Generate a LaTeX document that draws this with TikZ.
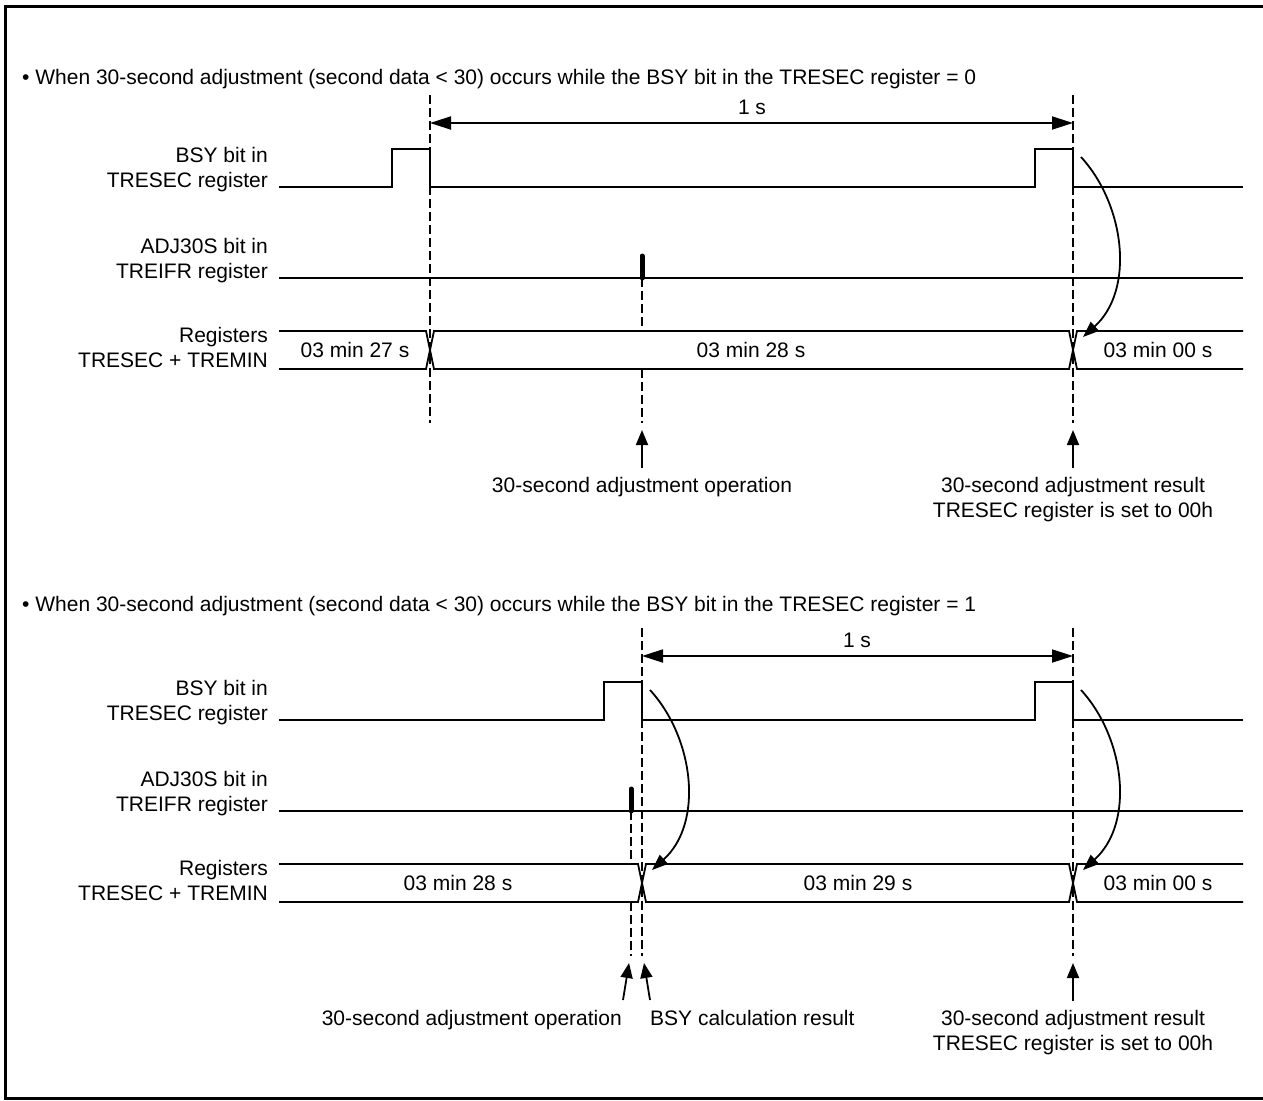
\documentclass[tikz,border=0pt]{standalone}
\usepackage{fontspec}
\setmainfont{Liberation Sans}
\usetikzlibrary{arrows.meta}
\tikzset{
  sig/.style={line width=1.8pt},
  guide/.style={line width=2.8pt,dash pattern=on 9pt off 4pt},
  pulse/.style={line width=5pt,line cap=round},
  span/.style={line width=1.8pt,{Triangle[length=21pt,width=13pt]}-{Triangle[length=21pt,width=13pt]}},
  ptr/.style={line width=1.8pt,-{Triangle[length=15pt,width=12pt]}},
  bendptr/.style={line width=1.8pt,-{Triangle[length=16pt,width=12pt]}},
}
\begin{document}
\begin{tikzpicture}[x=1pt,y=-1pt,every node/.style={font=\fontsize{21}{25}\selectfont,inner sep=0pt}]
\useasboundingbox (0,0) rectangle (1263,1100);
\draw[line width=3pt] (5,6.3) rectangle (1290,1098.5);
\node[anchor=base west] (titleA) at (22,84) {• When 30-second adjustment (second data < 30) occurs while the BSY bit in the TRESEC register = 0};
\node[anchor=base west] (titleB) at (22,611) {• When 30-second adjustment (second data < 30) occurs while the BSY bit in the TRESEC register = 1};
\node[anchor=east,align=right] (bsyA) at (268,169.5) {BSY bit in\\TRESEC register};
\node[anchor=east,align=right] (adjA) at (268,260.5) {ADJ30S bit in\\TREIFR register};
\node[anchor=east,align=right] (regA) at (268,347) {Registers\\TRESEC + TREMIN};
\draw[sig] (279,187)--(392,187)--(392,149)--(430,149)--(430,187)--(1035,187)--(1035,149)--(1073,149)--(1073,187)--(1243,187);
\draw[sig] (279,278)--(1243,278);
\draw[pulse] (642,256)--(642,278);
\draw[sig] (279,331)--(426,331)--(434,369)--(1069,369)--(1077,331)--(1243,331);
\draw[sig] (279,369)--(426,369)--(434,331)--(1069,331)--(1077,369)--(1243,369);
\node (valA1) at (355,350) {03 min 27 s};
\node (valA2) at (751,350) {03 min 28 s};
\node (valA3) at (1158,350) {03 min 00 s};
\coordinate (gA1t) at (430,95); \coordinate (gA1b) at (430,423);
\coordinate (gA2t) at (1073,95); \coordinate (gA2b) at (1073,423);
\draw[guide] (gA1t)--(gA1b);
\draw[guide] (gA2t)--(gA2b);
\draw[guide] (642,278)--(642,331);
\draw[guide] (642,369)--(642,423);
\coordinate (spA1) at (430,123); \coordinate (spA2) at (1073,123);
\draw[span] (spA1)--(spA2);
\node (oneA) at (752,107) {1 s};
\coordinate (tailA1) at (642,468); \coordinate (tipA1) at (642,430);
\coordinate (tailA2) at (1073,468); \coordinate (tipA2) at (1073,430);
\draw[ptr] (tailA1)--(tipA1);
\draw[ptr] (tailA2)--(tipA2);
\node[anchor=base] (opA) at (642,492.5) {30-second adjustment operation};
\node[align=center] (resA) at (1073,499.5) {30-second adjustment result\\TRESEC register is set to 00h};
\coordinate (bA1) at (1081,157); \coordinate (bA2) at (1083,337);
\draw[bendptr] (bA1) .. controls (1125,205) and (1135,290) .. (bA2);
\begin{scope}[shift={(0,533)}]
\node[anchor=east,align=right] (bsyB) at (268,169.5) {BSY bit in\\TRESEC register};
\node[anchor=east,align=right] (adjB) at (268,260.5) {ADJ30S bit in\\TREIFR register};
\node[anchor=east,align=right] (regB) at (268,347) {Registers\\TRESEC + TREMIN};
\draw[sig] (279,187)--(604,187)--(604,149)--(642,149)--(642,187)--(1035,187)--(1035,149)--(1073,149)--(1073,187)--(1243,187);
\draw[sig] (279,278)--(1243,278);
\draw[pulse] (631,256)--(631,278);
\draw[sig] (279,331)--(638,331)--(646,369)--(1069,369)--(1077,331)--(1243,331);
\draw[sig] (279,369)--(638,369)--(646,331)--(1069,331)--(1077,369)--(1243,369);
\node (valB1) at (458,350) {03 min 28 s};
\node (valB2) at (858,350) {03 min 29 s};
\node (valB3) at (1158,350) {03 min 00 s};
\coordinate (gB1t) at (642,95); \coordinate (gB1b) at (642,423);
\coordinate (gB2t) at (1073,95); \coordinate (gB2b) at (1073,423);
\draw[guide] (gB1t)--(gB1b);
\draw[guide] (gB2t)--(gB2b);
\draw[guide] (631,278)--(631,331);
\draw[guide] (631,369)--(631,423);
\coordinate (spB1) at (642,123); \coordinate (spB2) at (1073,123);
\draw[span] (spB1)--(spB2);
\node (oneB) at (857,107) {1 s};
\coordinate (tailB1) at (623,467); \coordinate (tipB1) at (629,430);
\coordinate (tailB2) at (650,467); \coordinate (tipB2) at (644,430);
\coordinate (tailB3) at (1073,468); \coordinate (tipB3) at (1073,430);
\draw[ptr] (tailB1)--(tipB1);
\draw[ptr] (tailB2)--(tipB2);
\draw[ptr] (tailB3)--(tipB3);
\node[anchor=base east] (opB) at (622,492.5) {30-second adjustment operation};
\node[anchor=base west] (calcB) at (650,492.5) {BSY calculation result};
\node[align=center] (resB) at (1073,499.5) {30-second adjustment result\\TRESEC register is set to 00h};
\coordinate (bB1) at (650,157); \coordinate (bB2) at (652,337);
\coordinate (bB3) at (1081,157); \coordinate (bB4) at (1083,337);
\draw[bendptr] (bB1) .. controls (694,205) and (704,290) .. (bB2);
\draw[bendptr] (bB3) .. controls (1125,205) and (1135,290) .. (bB4);
\end{scope}
\end{tikzpicture}
\end{document}
